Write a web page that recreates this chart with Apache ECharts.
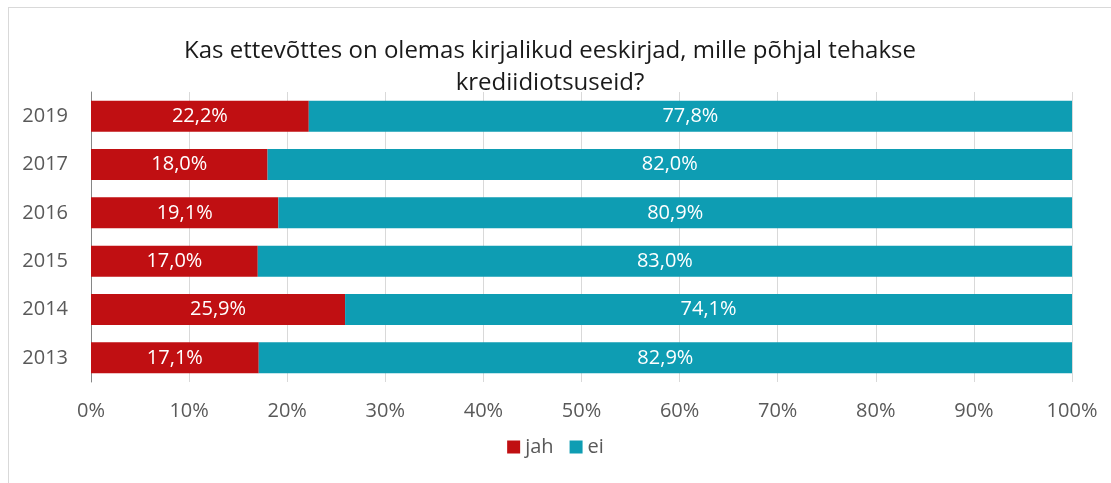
<!DOCTYPE html>
<html>
<head>
<meta charset="utf-8">
<script src="https://cdn.jsdelivr.net/npm/echarts@6/dist/echarts.min.js"></script>
<style>
    html, body { margin: 0; padding: 0; background: #fff; overflow: hidden; }
    #frame { position: absolute; left: 8px; top: 7px; width: 1200px; height: 600px; border: 1px solid #d9d9d9; }
    #chart { position: absolute; left: 0; top: 0; width: 1111px; height: 483px; }
</style>
</head>
<body>
<div id="frame"></div>
<div id="chart"></div>
<script>
var years = ['2013', '2014', '2015', '2016', '2017', '2019'];
var jah = [17.1, 25.9, 17.0, 19.1, 18.0, 22.2];
var ei = [82.9, 74.1, 83.0, 80.9, 82.0, 77.8];
var xTicks = [0, 10, 20, 30, 40, 50, 60, 70, 80, 90, 100];

var chart = echarts.init(document.getElementById('chart'));

// 小数点用逗号
function fmt(v) {
    return v.toFixed(1).replace('.', ',') + '%';
}

var option = {
    animation: false,
    title: {
        text: 'Kas ettevõttes on olemas kirjalikud eeskirjad, mille põhjal tehakse\nkrediidiotsuseid?',
        left: 545,
        textAlign: 'center',
        top: 30,
        textStyle: {
            fontFamily: 'Open Sans',
            fontSize: 24,
            fontWeight: 'normal',
            color: '#1a1a1a',
            lineHeight: 32
        }
    },
    legend: {
        bottom: 21,
        left: 'center',
        icon: 'rect',
        itemWidth: 13,
        itemHeight: 13,
        itemGap: 16,
        textStyle: {
            fontFamily: 'Open Sans',
            fontSize: 20,
            color: '#595959'
        },
        data: ['jah', 'ei']
    },
    grid: {
        left: 91,
        right: 39,
        top: 92,
        bottom: 101
    },
    xAxis: {
        type: 'value',
        min: 0,
        max: 100,
        interval: 10,
        axisLine: { show: false },
        axisTick: { show: false },
        splitLine: {
            show: true,
            lineStyle: { color: '#d9d9d9', width: 1 }
        },
        axisLabel: {
            margin: 19,
            fontFamily: 'Open Sans',
            fontSize: 20,
            color: '#595959',
            formatter: function (v) {
                return xTicks.indexOf(v) >= 0 ? v + '%' : '';
            }
        }
    },
    yAxis: {
        type: 'category',
        data: years,
        axisLine: {
            show: true,
            lineStyle: { color: '#868686', width: 1 }
        },
        axisTick: { show: false },
        axisLabel: {
            margin: 23,
            fontFamily: 'Open Sans',
            fontSize: 20,
            color: '#595959'
        }
    },
    series: [{
            name: 'jah',
            type: 'bar',
            stack: 'total',
            barWidth: 31,
            itemStyle: { color: '#c00f12' },
            label: {
                show: true,
                position: 'inside',
                color: '#fff',
                fontFamily: 'Open Sans',
                fontSize: 20,
                formatter: function (p) { return fmt(p.value); }
            },
            data: jah
        },
        {
            name: 'ei',
            type: 'bar',
            stack: 'total',
            barWidth: 31,
            itemStyle: { color: '#0e9db3' },
            label: {
                show: true,
                position: 'inside',
                color: '#fff',
                fontFamily: 'Open Sans',
                fontSize: 20,
                formatter: function (p) { return fmt(p.value); }
            },
            data: ei
        }
    ]
};
chart.setOption(option);
</script>
</body>
</html>
